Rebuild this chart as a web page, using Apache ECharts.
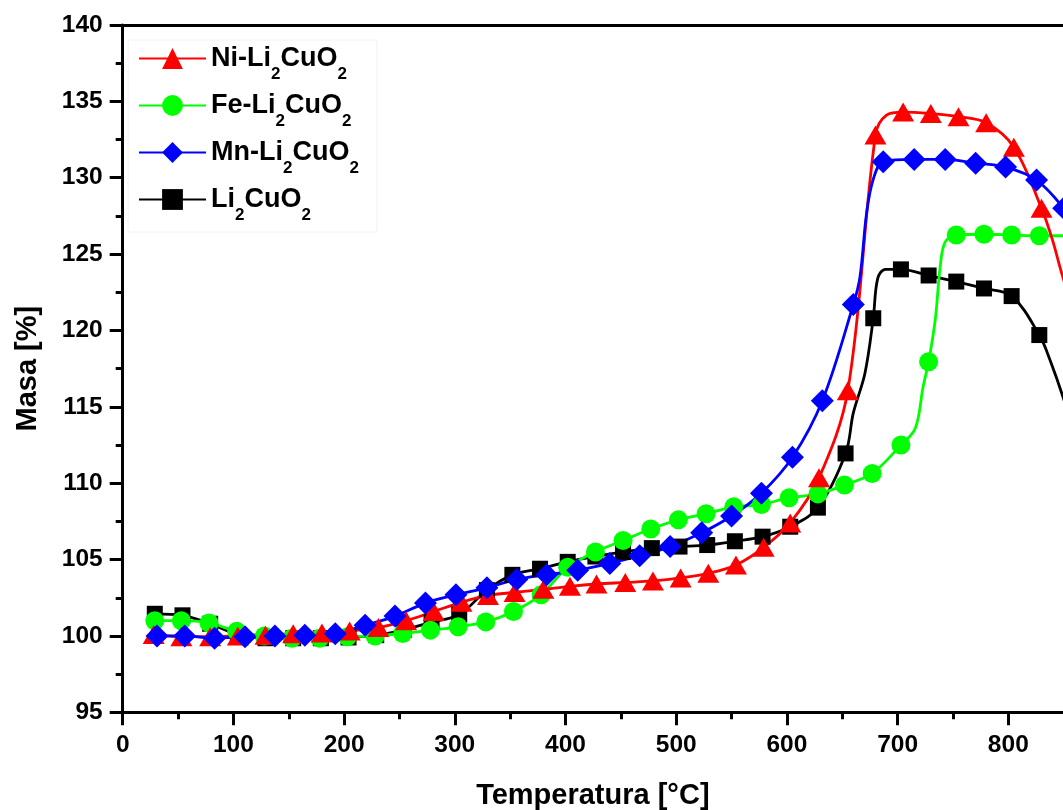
<!DOCTYPE html>
<html>
<head>
<meta charset="utf-8">
<script src="https://cdn.jsdelivr.net/npm/echarts@6/dist/echarts.min.js"></script>
<style>
  html, body { margin: 0; padding: 0; background: #fff; overflow: hidden; }
  #chart { width: 1063px; height: 810px; }
</style>
</head>
<body>
<div id="chart"></div>
<script>
// ---- Data ----
const seriesNames = ['Ni-Li2CuO2', 'Fe-Li2CuO2', 'Mn-Li2CuO2', 'Li2CuO2'];

// Ni-Li2CuO2 (red triangles)
const niX = [28, 53, 79, 104, 129, 154, 180, 205, 231, 256, 281, 306, 330, 354, 380, 404, 428, 454, 479, 504, 529, 554, 579, 603, 629, 655, 680, 705, 730, 755, 780, 805, 830];
const niY = [100.1, 99.95, 99.95, 100.0, 100.05, 100.15, 100.2, 100.33, 100.55, 101.0, 101.6, 102.2, 102.65, 102.85, 103.05, 103.25, 103.4, 103.5, 103.6, 103.8, 104.1, 104.65, 105.8, 107.4, 110.35, 116.05, 132.8, 134.3, 134.2, 134.0, 133.6, 132.0, 128.0];
const niCurveX = [690, 840, 848, 860];
const niCurveY = [134.1, 125.9, 123.8, 121.0];

// Fe-Li2CuO2 (green circles)
const feX = [29, 53, 78, 103, 128, 153, 178, 203, 228, 253, 278, 303, 328, 353, 378, 402, 427, 452, 477, 502, 527, 552, 577, 602, 628, 652, 677, 703, 728, 753, 778, 803, 828];
const feY = [101.0, 101.0, 100.85, 100.3, 100.0, 99.85, 99.85, 99.95, 100.0, 100.16, 100.38, 100.6, 100.92, 101.6, 102.7, 104.5, 105.5, 106.25, 107.0, 107.6, 108.0, 108.45, 108.6, 109.05, 109.3, 109.88, 110.64, 112.5, 117.95, 126.25, 126.3, 126.25, 126.2];
const feCurveX = [716, 723, 734, 738.5, 743, 860];
const feCurveY = [113.6, 116.3, 120.7, 124.2, 125.8, 126.2];

// Mn-Li2CuO2 (blue diamonds)
const mnX = [31, 56, 83, 110.5, 137.5, 164.5, 192, 219, 246, 273.5, 301, 329, 356, 383, 411, 440, 467, 494.5, 523, 550, 577, 605, 632, 660, 687, 715, 743, 770.5, 797.5, 825.5, 850];
const mnY = [100.0, 100.0, 99.85, 99.95, 100.0, 100.05, 100.15, 100.7, 101.3, 102.15, 102.7, 103.15, 103.7, 104.0, 104.3, 104.75, 105.25, 105.85, 106.75, 107.85, 109.35, 111.7, 115.4, 121.7, 131.05, 131.2, 131.2, 130.95, 130.7, 129.85, 128.0];
const mnCurveX = [666, 672, 678, 870];
const mnCurveY = [123.5, 127.7, 129.9, 125.8];

// Li2CuO2 (black squares)
const liX = [29, 54, 79, 104, 129, 154, 179, 204, 229, 254, 279, 304, 329, 352, 377, 402, 427, 452, 478, 503, 528, 553, 578, 603, 628, 653, 678, 703, 728, 753, 778, 803, 828];
const liY = [101.45, 101.35, 100.8, 100.1, 99.85, 99.85, 99.85, 99.9, 100.05, 100.4, 100.9, 101.4, 103.0, 104.0, 104.4, 104.85, 105.2, 105.5, 105.75, 105.85, 105.95, 106.2, 106.5, 107.15, 108.4, 111.95, 120.8, 124.0, 123.6, 123.2, 122.75, 122.25, 119.7];
const liCurveX = [660, 670.5, 682, 689, 838, 850, 860];
const liCurveY = [114.6, 117.2, 123.4, 124.0, 118.0, 115.5, 113.0];

// Axes: the visible x range of the picture ends at ~849 °C (the plot is cut at the right)
const xMin = 0, xMax = 849.4, xStep = 100;
const xMajorTicks = [0, 100, 200, 300, 400, 500, 600, 700, 800];
const xMinorTicks = [50, 150, 250, 350, 450, 550, 650, 750];
const yMin = 95, yMax = 140, yStep = 5;

// ---- Build series data ----
function buildData(mx, my, cx, cy) {
  const pts = [];
  mx.forEach((x, i) => pts.push({ value: [x, my[i]] }));
  cx.forEach((x, i) => pts.push({ value: [x, cy[i]], symbol: 'none' }));
  pts.sort((a, b) => a.value[0] - b.value[0]);
  return pts;
}

const FONT = 'Liberation Sans, Arial, sans-serif';

const styles = {
  'Ni-Li2CuO2': { color: '#ff0000', symbol: 'triangle', size: [22, 19], data: buildData(niX, niY, niCurveX, niCurveY) },
  'Fe-Li2CuO2': { color: '#00ff00', symbol: 'circle', size: 19, data: buildData(feX, feY, feCurveX, feCurveY) },
  'Mn-Li2CuO2': { color: '#0000ff', symbol: 'diamond', size: [23, 23], data: buildData(mnX, mnY, mnCurveX, mnCurveY) },
  'Li2CuO2':    { color: '#000000', symbol: 'rect', size: 16, data: buildData(liX, liY, liCurveX, liCurveY) }
};

const drawOrder = ['Li2CuO2', 'Fe-Li2CuO2', 'Ni-Li2CuO2', 'Mn-Li2CuO2'];

const series = drawOrder.map(name => {
  const s = styles[name];
  return {
    name: name,
    type: 'line',
    data: s.data,
    smooth: 0.35,
    symbol: s.symbol,
    symbolSize: s.size,
    showAllSymbol: true,
    clip: false,
    lineStyle: { color: s.color, width: 2.8 },
    itemStyle: { color: s.color, borderWidth: 0 },
    emphasis: { disabled: true },
    animation: false
  };
});

const legendLabels = {
  'Ni-Li2CuO2': '{t|Ni-Li}{s|2}{t|CuO}{s|2}',
  'Fe-Li2CuO2': '{t|Fe-Li}{s|2}{t|CuO}{s|2}',
  'Mn-Li2CuO2': '{t|Mn-Li}{s|2}{t|CuO}{s|2}',
  'Li2CuO2': '{t|Li}{s|2}{t|CuO}{s|2}'
};

const axisLabelStyle = { color: '#000', fontFamily: FONT, fontWeight: 'bold', fontSize: 24.5 };
const titleStyle = { color: '#000', fontFamily: FONT, fontWeight: 'bold', fontSize: 29 };
const blackLine = { color: '#000', width: 3 };

const option = {
  backgroundColor: '#ffffff',
  animation: false,
  grid: { left: 122.7, top: 25, bottom: 97.7, right: 0, containLabel: false, outerBoundsMode: 'none' },
  legend: {
    data: seriesNames,
    orient: 'vertical',
    left: 128,
    top: 40,
    padding: [5, 18, 8, 10],
    itemWidth: 67,
    itemHeight: 26,
    itemGap: 9,
    borderColor: '#f2f2f2',
    borderWidth: 1,
    formatter: name => legendLabels[name],
    textStyle: {
      color: '#000',
      rich: {
        t: { fontFamily: FONT, fontWeight: 'bold', fontSize: 27, color: '#000' },
        s: { fontFamily: FONT, fontWeight: 'bold', fontSize: 17, color: '#000', padding: [32, 0, 0, 0] }
      }
    }
  },
  xAxis: [{
    type: 'value',
    min: xMin, max: xMax, interval: xStep,
    name: 'Temperatura [°C]',
    nameLocation: 'middle',
    nameGap: 69,
    nameTextStyle: titleStyle,
    axisLine: { show: true, onZero: false, lineStyle: blackLine },
    axisTick: { show: true, inside: false, length: 13, customValues: xMajorTicks, lineStyle: blackLine },
    minorTick: { show: false },
    axisLabel: Object.assign({ margin: 20, customValues: xMajorTicks }, axisLabelStyle),
    splitLine: { show: false }
  }, {
    type: 'value',
    position: 'bottom',
    min: xMin, max: xMax, interval: xStep,
    axisLine: { show: false },
    axisTick: { show: true, inside: false, length: 7, customValues: xMinorTicks, lineStyle: blackLine },
    axisLabel: { show: false },
    splitLine: { show: false }
  }, {
    type: 'value',
    position: 'top',
    min: xMin, max: xMax, interval: xStep,
    axisLine: { show: true, onZero: false, lineStyle: blackLine },
    axisTick: { show: false },
    axisLabel: { show: false },
    splitLine: { show: false }
  }],
  yAxis: {
    type: 'value',
    min: yMin, max: yMax, interval: yStep,
    name: 'Masa [%]',
    nameLocation: 'middle',
    nameGap: 80,
    nameTextStyle: titleStyle,
    axisLine: { show: true, onZero: false, lineStyle: blackLine },
    axisTick: { show: true, inside: false, length: 13, lineStyle: blackLine },
    minorTick: { show: true, splitNumber: 2, length: 7, lineStyle: blackLine },
    axisLabel: Object.assign({ margin: 20 }, axisLabelStyle),
    splitLine: { show: false }
  },
  series: series
};

const chart = echarts.init(document.getElementById('chart'), null, { renderer: 'canvas' });
chart.setOption(option);
</script>
</body>
</html>
